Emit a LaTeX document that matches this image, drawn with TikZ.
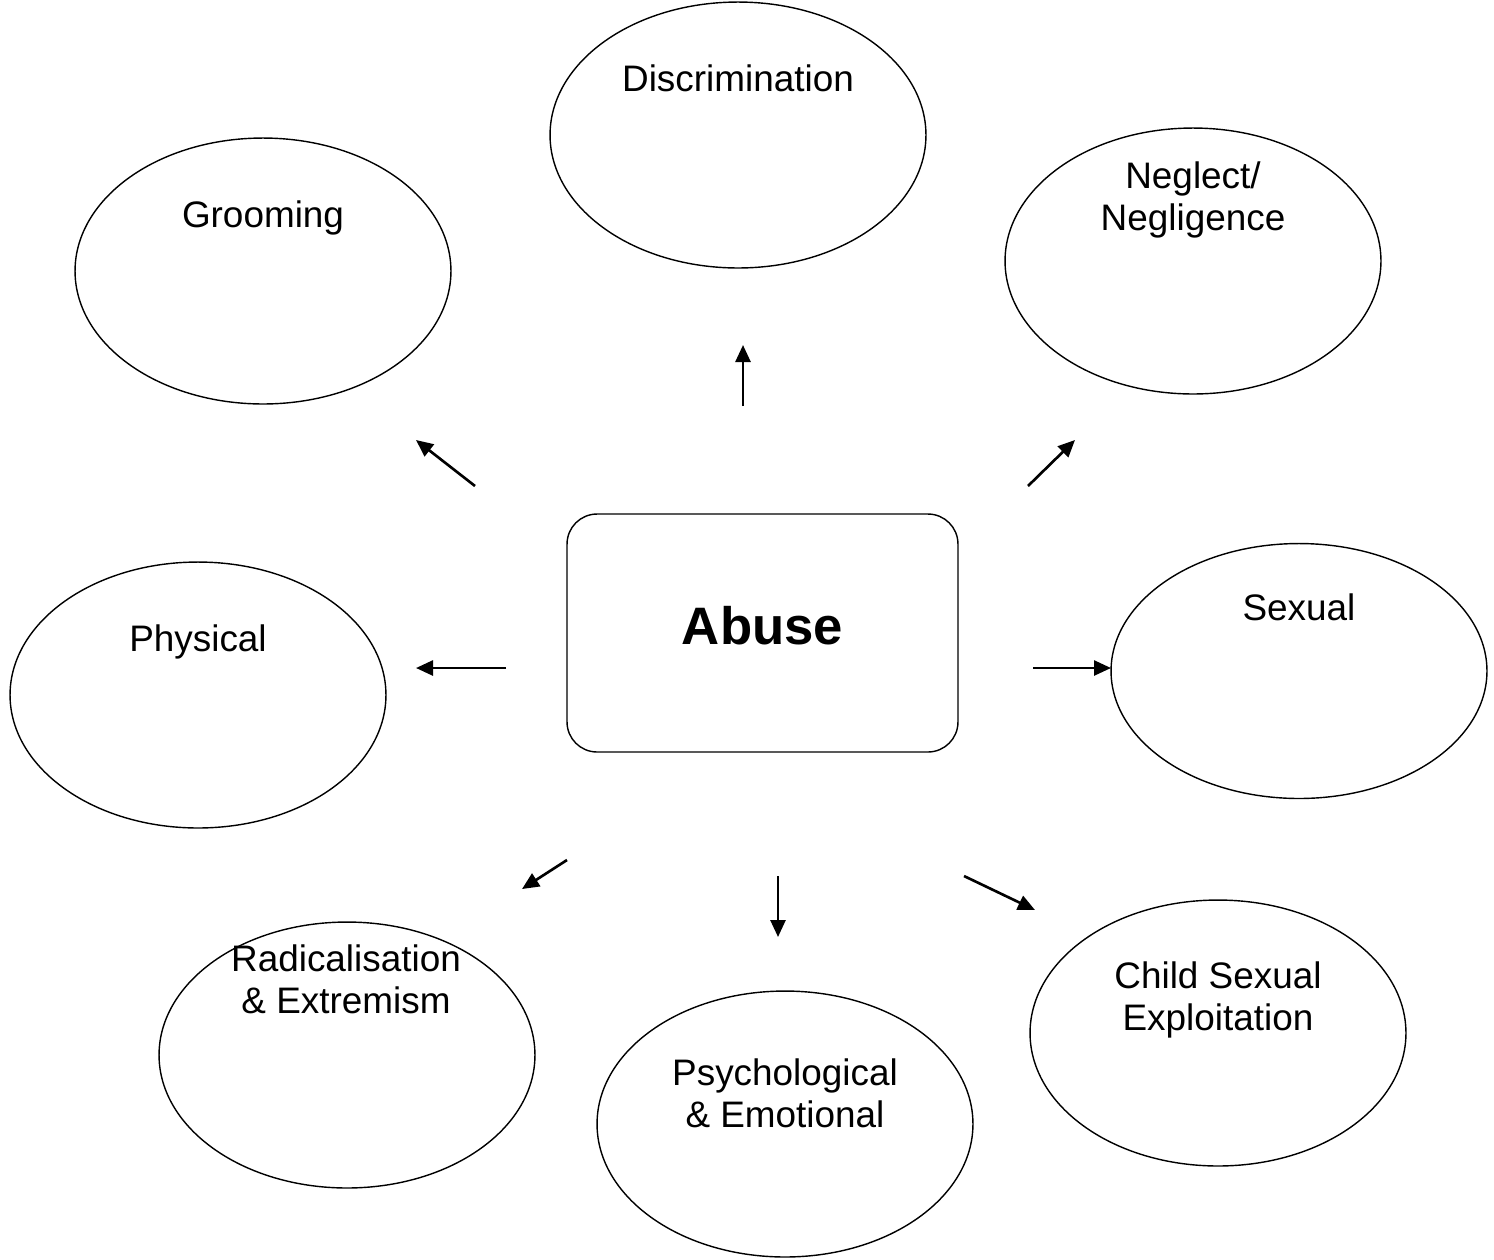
\documentclass[tikz,border=0pt]{standalone}
\usepackage{fontspec}
\setmainfont{Liberation Sans}
\usetikzlibrary{arrows.meta, shapes.geometric}

\begin{document}
\begin{tikzpicture}[x=0.02cm, y=-0.02cm,
	blob/.style={draw, ellipse, line width=0.8pt, minimum width=7.52cm, minimum height=5.32cm, inner sep=0pt},
	txt/.style={align=center, inner sep=0pt, font=\fontsize{21}{24}\selectfont},
	spoke/.style={-{Triangle[length=0.34cm, width=0.3cm]}, line width=1.5pt}]

	\useasboundingbox (0,0) rectangle (1494,1259);

	% ============ CENTRE ============
	\node[draw, rounded corners=0.6cm, line width=0.8pt, minimum width=7.82cm, minimum height=4.76cm,
		text depth=0.32cm, font=\fontsize{30}{36}\selectfont\bfseries] (abuse) at (762.5,633) {Abuse};

	% ============ ELLIPSES ============
	\node[blob] (discr) at (738,135) {};
	\node[blob] (groom) at (263,271) {};
	\node[blob] (negl) at (1193,261) {};
	\node[blob] (phys) at (198,695) {};
	\node[blob, minimum height=5.1cm] (sex) at (1299,671) {};
	\node[blob] (radi) at (347,1055) {};
	\node[blob] (psych) at (785,1124) {};
	\node[blob] (cse) at (1218,1033) {};

	% Labels
	\node[txt] (discr_t) at (738,78) {Discrimination};
	\node[txt] (groom_t) at (263,218) {Grooming};
	\node[txt] (negl_t) at (1193,200) {Neglect/\\Negligence};
	\node[txt] (phys_t) at (198,642) {Physical};
	\node[txt] (sex_t) at (1299,607) {Sexual};
	\node[txt] (radi_t) at (346,979) {Radicalisation\\\& Extremism};
	\node[txt] (psych_t) at (785,1093) {Psychological\\\& Emotional};
	\node[txt] (cse_t) at (1218,1000) {Child Sexual\\Exploitation};

	% ============ ARROWS ============
	\coordinate (up0) at (743,406);    \coordinate (up1) at (743,345);
	\coordinate (ul0) at (475,486);    \coordinate (ul1) at (416,440);
	\coordinate (ur0) at (1028,486);   \coordinate (ur1) at (1075,440);
	\coordinate (le0) at (506,668);    \coordinate (le1) at (416,668);
	\coordinate (ri0) at (1033,668);   \coordinate (ri1) at (1111,668);
	\coordinate (dl0) at (567,860);    \coordinate (dl1) at (522,889);
	\coordinate (dn0) at (778,876);    \coordinate (dn1) at (778,937);
	\coordinate (dr0) at (964,876);    \coordinate (dr1) at (1035,910);

	\foreach \d in {up, ul, ur, le, ri, dl, dn, dr} {
		\draw[spoke] (\d0) -- (\d1);
	}

\end{tikzpicture}
\end{document}
